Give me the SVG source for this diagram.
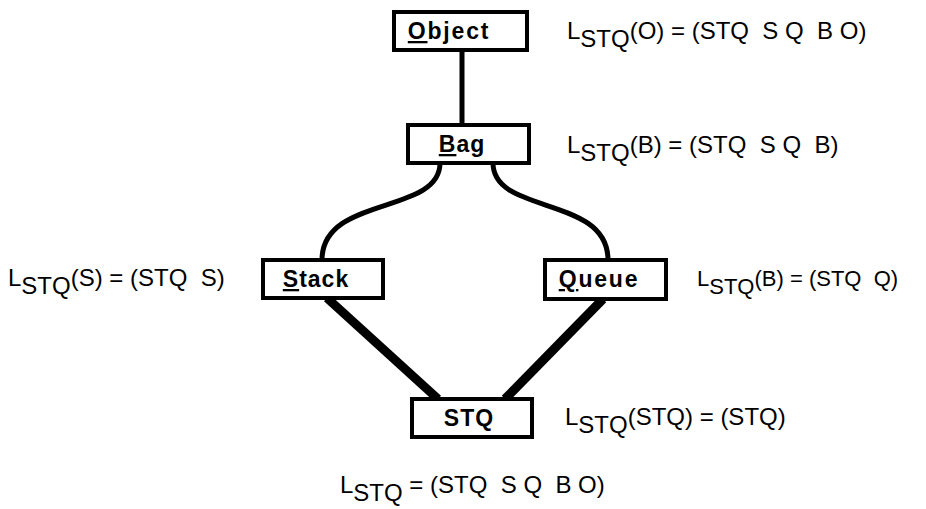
<svg xmlns="http://www.w3.org/2000/svg" width="926" height="509" viewBox="0 0 926 509">
<style>
.box{fill:#fff;stroke:#000;stroke-width:4}
.bt{font-family:"Liberation Sans",Arial,sans-serif;font-weight:bold;font-size:23px;letter-spacing:1px;text-anchor:middle;fill:#000}
.u{text-decoration:underline}
.lb{font-family:"Liberation Sans",Arial,sans-serif;font-size:24px;fill:#000;white-space:pre}
.c{fill:none;stroke:#000;stroke-width:5}
.t{fill:none;stroke:#000;stroke-width:9}
</style>
<rect width="926" height="509" fill="#fff"/>
<g id="connectors">
<line class="c" x1="462" y1="50" x2="462" y2="125"/>
<path class="c" d="M440,163 C440,215 322,195 322,260"/>
<path class="c" d="M493,163 C493,215 608,195 608,260"/>
<line class="t" x1="327" y1="298" x2="438" y2="399"/>
<line class="t" x1="603" y1="299" x2="505" y2="399"/>
</g>
<g id="object">
<rect class="box" x="394" y="12" width="133" height="38"/>
<text class="bt" x="449" y="39" style="letter-spacing:1.8px"><tspan class="u">O</tspan>bject</text>
</g>
<g id="bag">
<rect class="box" x="408" y="125" width="121" height="38"/>
<text class="bt" x="462" y="152"><tspan class="u">B</tspan>ag</text>
</g>
<g id="stack">
<rect class="box" x="263" y="260" width="120" height="38"/>
<text class="bt" x="316" y="287"><tspan class="u">S</tspan>tack</text>
</g>
<g id="queue">
<rect class="box" x="545" y="260" width="121" height="39"/>
<text class="bt" x="599" y="287" style="letter-spacing:1.8px"><tspan class="u">Q</tspan>ueue</text>
</g>
<g id="stq">
<rect class="box" x="412" y="399" width="120" height="38"/>
<text class="bt" x="469" y="426">STQ</text>
</g>
<g id="labels">
<text class="lb" x="567" y="39">L<tspan dy="8">STQ</tspan><tspan dy="-8">(O) = (STQ  S Q  B O)</tspan></text>
<text class="lb" x="567" y="153">L<tspan dy="8">STQ</tspan><tspan dy="-8">(B) = (STQ  S Q  B)</tspan></text>
<text class="lb" x="8" y="286">L<tspan dy="8">STQ</tspan><tspan dy="-8">(S) = (STQ  S)</tspan></text>
<text class="lb" x="697" y="286" style="font-size:22px">L<tspan dy="8">STQ</tspan><tspan dy="-8">(B) = (STQ  Q)</tspan></text>
<text class="lb" x="565" y="425">L<tspan dy="8">STQ</tspan><tspan dy="-8">(STQ) = (STQ)</tspan></text>
<text class="lb" x="340" y="493">L<tspan dy="8">STQ</tspan><tspan dy="-8"> = (STQ  S Q  B O)</tspan></text>
</g>
</svg>
